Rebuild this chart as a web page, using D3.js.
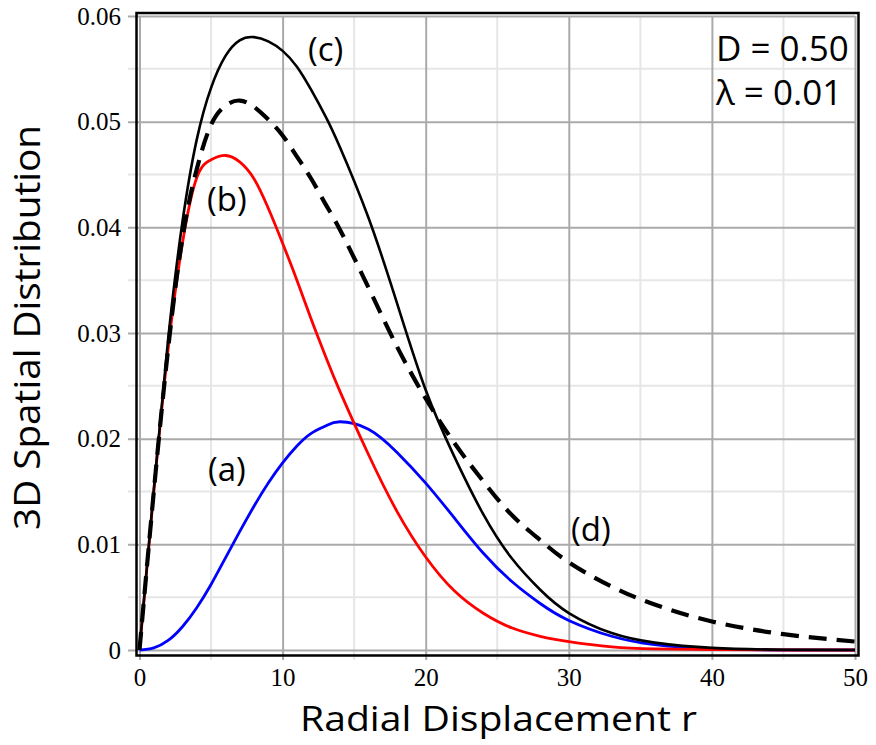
<!DOCTYPE html>
<html lang="en">
<head>
    <meta charset="UTF-8">
    <title>3D Spatial Distribution</title>
    <script src="https://d3js.org/d3.v7.min.js"></script>
    <style>
        body { margin: 0; background: #fff; }
    </style>
</head>
<body>
    <script>
        const rValues = [0, 1, 2, 3, 4, 5, 6, 7, 8, 9, 10, 11, 12, 13, 14, 16, 18, 20, 22, 24, 26, 28, 30, 33, 36, 40, 45, 50];

        // (a) blue
        const curveA = [0, 0.0002, 0.0009, 0.0022, 0.0040, 0.0062, 0.0087, 0.0112, 0.0136, 0.0158, 0.0177, 0.0193, 0.0205,
                        0.0212, 0.0216, 0.0209, 0.0187, 0.0158, 0.0125, 0.0092, 0.0065, 0.0044, 0.0028, 0.0013, 0.0005,
                        0.0001, 0, 0];
        // (b) red
        const curveB = [0, 0.0150, 0.0285, 0.0385, 0.0447, 0.0464, 0.0468, 0.0462, 0.0446, 0.0418, 0.0385, 0.0350, 0.0313,
                        0.0278, 0.0245, 0.0185, 0.0131, 0.0088, 0.0056, 0.0035, 0.0021, 0.0013, 0.0008, 0.0003, 0.0001,
                        0.00003, 0, 0];
        // (c) black solid
        const curveC = [0, 0.0152, 0.0294, 0.0405, 0.0483, 0.0532, 0.0562, 0.0577, 0.0580, 0.0576, 0.0567, 0.0552, 0.0530,
                        0.0505, 0.0476, 0.0409, 0.0328, 0.0246, 0.0183, 0.0129, 0.0087, 0.0057, 0.0035, 0.0016, 0.0007,
                        0.0002, 0.00003, 0];
        // (d) black dashed
        const curveD = [0, 0.0150, 0.0285, 0.0390, 0.0455, 0.0497, 0.0515, 0.0520, 0.0514, 0.0502, 0.0487, 0.0467, 0.0446,
                        0.0422, 0.0398, 0.0343, 0.0287, 0.0238, 0.0196, 0.0160, 0.0128, 0.0104, 0.0083, 0.0060, 0.0043,
                        0.0027, 0.0015, 0.0008];

        const xTicks = [0, 10, 20, 30, 40, 50];
        const xMinor = [5, 15, 25, 35, 45];
        const yTicks = [0, 0.01, 0.02, 0.03, 0.04, 0.05, 0.06];
        const yMinor = [0.005, 0.015, 0.025, 0.035, 0.045, 0.055];

        const w = 876;
        const h = 745;

        const x = d3.scaleLinear().domain([0, 50]).range([139.5, 855]);
        const y = d3.scaleLinear().domain([0, 0.06]).range([650, 16]);

        const svg = d3.select("body")
            .append("svg")
            .attr("width", w)
            .attr("height", h);

        // minor grid
        svg.append("g").selectAll("line")
            .data(xMinor)
            .join("line")
            .attr("x1", d => x(d)).attr("x2", d => x(d))
            .attr("y1", 16).attr("y2", 660)
            .attr("stroke", "#e6e6e6").attr("stroke-width", 2);

        svg.append("g").selectAll("line")
            .data(yMinor)
            .join("line")
            .attr("x1", 128).attr("x2", 855)
            .attr("y1", d => y(d)).attr("y2", d => y(d))
            .attr("stroke", "#e6e6e6").attr("stroke-width", 2);

        // major grid + tick labels
        const xAxis = d3.axisBottom(x)
            .tickValues(xTicks)
            .tickSizeInner(-644)
            .tickSizeOuter(0)
            .tickPadding(8)
            .tickFormat(d3.format("d"));

        const yAxis = d3.axisLeft(y)
            .tickValues(yTicks)
            .tickSizeInner(-(855 - 128))
            .tickSizeOuter(0)
            .tickPadding(7)
            .tickFormat(d => d === 0 ? "0" : d3.format(".2f")(d));

        const gx = svg.append("g")
            .attr("transform", "translate(0,660)")
            .call(xAxis);

        const gy = svg.append("g")
            .attr("transform", "translate(128,0)")
            .call(yAxis);

        [gx, gy].forEach(g => {
            g.attr("font-family", null).attr("font-size", null);
            g.select(".domain").remove();
            g.selectAll(".tick line").attr("stroke", "#aaaaaa").attr("stroke-width", 2);
            g.selectAll(".tick text")
                .attr("fill", "#000")
                .style("font-family", "'Liberation Serif', 'Times New Roman', serif")
                .style("font-size", "25px");
        });

        // curves
        const series = [
            { values: curveA, color: "#0000ff", width: 2.8, dash: null },
            { values: curveB, color: "#ff0000", width: 2.8, dash: null },
            { values: curveC, color: "#000000", width: 2.6, dash: null },
            { values: curveD, color: "#000000", width: 4.2, dash: "18,10" }
        ];

        const line = d3.line()
            .x(d => x(d[0]))
            .y(d => y(d[1]))
            .curve(d3.curveNatural);

        svg.append("g").selectAll("path")
            .data(series)
            .join("path")
            .attr("d", s => line(rValues.map((r, i) => [r, s.values[i]])))
            .attr("fill", "none")
            .attr("stroke", s => s.color)
            .attr("stroke-width", s => s.width)
            .attr("stroke-dasharray", s => s.dash);

        // frame
        svg.append("rect")
            .attr("x", 136.5).attr("y", 13)
            .attr("width", 858.5 - 136.5)
            .attr("height", 655.5 - 13)
            .attr("fill", "none")
            .attr("stroke", "#000")
            .attr("stroke-width", 2.5);

        const sans = "'Open Sans', 'Noto Sans', sans-serif";

        // curve labels
        const labels = [
            { t: "(a)", x: 208, y: 481 },
            { t: "(b)", x: 207, y: 211 },
            { t: "(c)", x: 308, y: 61 },
            { t: "(d)", x: 571, y: 541 }
        ];
        svg.append("g").selectAll("text")
            .data(labels)
            .join("text")
            .attr("x", d => d.x).attr("y", d => d.y)
            .attr("font-family", sans)
            .attr("font-size", 33)
            .text(d => d.t);

        svg.append("text")
            .attr("x", 716).attr("y", 61)
            .attr("font-family", sans).attr("font-size", 35)
            .text("D = 0.50");
        svg.append("text")
            .attr("x", 716).attr("y", 105)
            .attr("font-family", sans).attr("font-size", 35)
            .text("λ = 0.01");

        // axis titles
        svg.append("text")
            .attr("x", 498.5).attr("y", 731)
            .attr("text-anchor", "middle")
            .attr("font-family", sans).attr("font-size", 35)
            .attr("textLength", 397)
            .attr("lengthAdjust", "spacingAndGlyphs")
            .text("Radial Displacement r");

        svg.append("text")
            .attr("transform", "translate(40,327.5) rotate(-90)")
            .attr("text-anchor", "middle")
            .attr("font-family", sans).attr("font-size", 37)
            .attr("textLength", 405)
            .attr("lengthAdjust", "spacingAndGlyphs")
            .text("3D Spatial Distribution");
    </script>
</body>
</html>
